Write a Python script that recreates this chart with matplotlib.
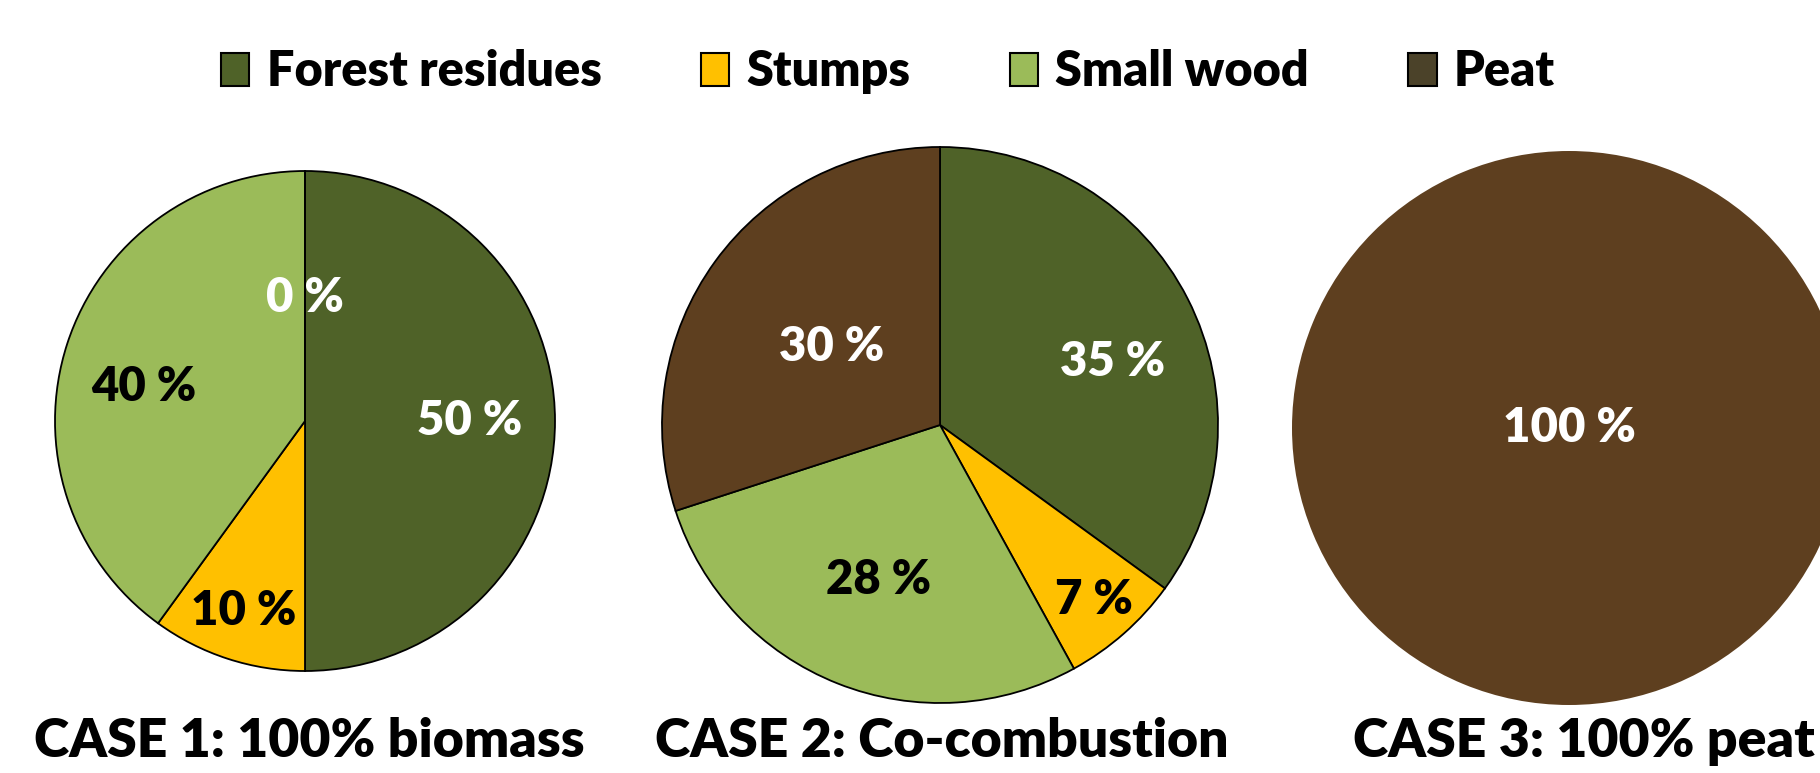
import numpy as np
import matplotlib.pyplot as plt
from matplotlib.patches import Patch

plt.rcParams['font.family'] = ['Lato', 'DejaVu Sans']
plt.rcParams['font.weight'] = 'heavy'

# fuel shares (%) for each combustion case
fuels = ['Forest residues', 'Stumps', 'Small wood', 'Peat']
case1 = [50, 10, 40, 0]
case2 = [35, 7, 28, 30]
case3 = [0, 0, 0, 100]
cases = [case1, case2, case3]
titles = ['CASE 1: 100% biomass', 'CASE 2: Co-combustion', 'CASE 3: 100% peat']

colors = ['#4F6228', '#FFC000', '#9BBB59', '#5E3F1F']
legend_colors = ['#4F6228', '#FFC000', '#9BBB59', '#4B4229']
text_colors = ['white', 'black', 'black', 'white']

# pie centre x, centre y (from top) and radius, in pixels
W, H = 1820, 773
geom = [(305, 421, 250), (940, 425, 278), (1569, 428, 277)]
# radial position of each label (None = no label) and angle nudge in degrees
label_r = [[0.66, 0.80, 0.66, 0.49],
           [0.66, 0.84, 0.60, 0.48],
           [None, None, None, 0.0]]
label_da = [[0, 0, 6, 0],
            [-7, 0, 0, 0],
            [0, 0, 0, 0]]
title_x = [309, 942, 1584]
edge_w = [1.3, 1.3, 0]

fig = plt.figure(figsize=(W / 100, H / 100), dpi=100)

for i, vals in enumerate(cases):
    cx, cy, r = geom[i]
    ax = fig.add_axes([(cx - r) / W, 1 - (cy + r) / H, 2 * r / W, 2 * r / H])
    wedges, _ = ax.pie(vals, colors=colors, startangle=90, counterclock=False,
                       radius=1, wedgeprops=dict(edgecolor='black', linewidth=edge_w[i]))
    ax.set_xlim(-1, 1)
    ax.set_ylim(-1, 1)
    ax.axis('off')
    for w, v, d, da, tc in zip(wedges, vals, label_r[i], label_da[i], text_colors):
        if d is None:
            continue
        ang = np.deg2rad((w.theta1 + w.theta2) / 2 + da)
        ax.text(d * np.cos(ang), d * np.sin(ang), f'{v} %', color=tc,
                fontsize=34, ha='center', va='center')
    fig.text(title_x[i] / W, 1 - 757 / H, titles[i], fontsize=38.5,
             ha='center', va='baseline')

handles = [Patch(facecolor=c, edgecolor='black', linewidth=1.5) for c in legend_colors]
fig.legend(handles, fuels, loc='center', bbox_to_anchor=(888 / W, 1 - 72 / H),
           ncol=4, frameon=False, fontsize=35, handlelength=0.58, handleheight=0.66,
           handletextpad=0.35, columnspacing=2.05, borderpad=0)

fig.savefig('out.png', dpi=100)
